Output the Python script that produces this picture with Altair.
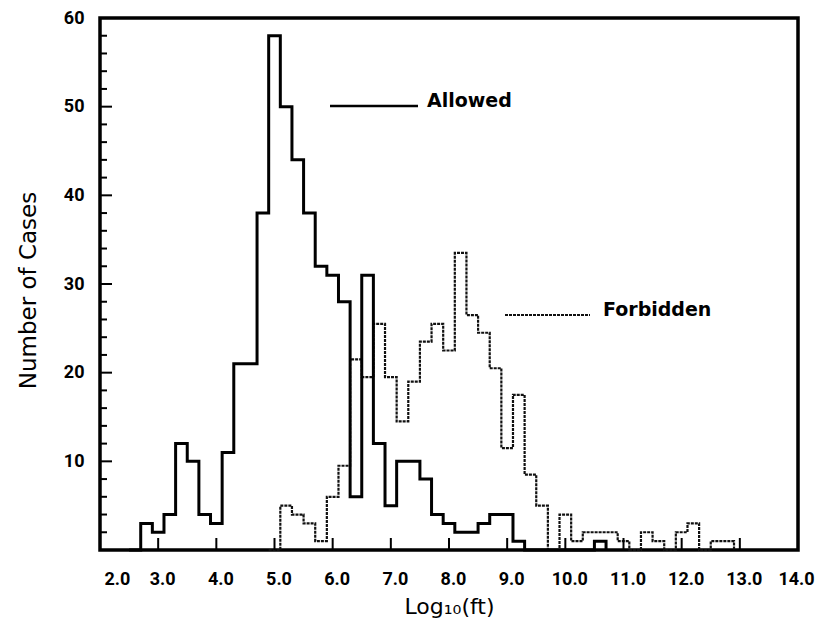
import altair as alt
import pandas as pd

# ---- data (histogram counts, bin width 0.2 in log10(ft)) ----
bin_width = 0.2
allowed_start = 2.5
allowed_counts = [0, 3, 2, 4, 12, 10, 4, 3, 11, 21,
                  21, 38, 58, 50, 44, 38, 32, 31, 28, 6,
                  31, 12, 5, 10, 10, 8, 4, 3, 2, 2,
                  3, 4, 4, 1, 0, 0, 0, 0, 0, 0,
                  1, 0]
forbidden_start = 4.9
forbidden_counts = [0, 5, 4, 3, 1, 6, 9.5, 21.5, 19.5, 25.5,
                    19.5, 14.5, 19, 23.5, 25.5, 22.5, 33.5, 26.5, 24.5, 20.5,
                    11.5, 17.5, 8.5, 5, 0, 4, 1, 2, 2, 2,
                    1, 0, 2, 1, 0, 2, 3, 0, 1, 1,
                    0]
x_tick_values = [2, 3, 4, 5, 6, 7, 8, 9, 10, 11, 12, 13, 14]
y_label_values = [10, 20, 30, 40, 50, 60]
y_major_ticks = [10, 20, 30, 40, 50]
y_minor_ticks = [2, 4, 6, 8, 12, 14, 16, 18, 22, 24, 26, 28, 32, 34, 36, 38,
                 42, 44, 46, 48, 52, 54, 56, 58]
x_inner_ticks = [3, 4, 5, 6, 7, 8, 9, 10, 11, 12, 13]


def step_frame(start, counts):
    edges = [round(start + bin_width * i, 2) for i in range(len(counts))]
    return pd.DataFrame({"edge": edges, "count": counts})


allowed_df = step_frame(allowed_start, allowed_counts)
forbidden_df = step_frame(forbidden_start, forbidden_counts)

W, H = 698, 532
FONT = "DejaVu Sans"
TICKFONT = "Roboto"

x_scale = alt.Scale(domain=[2, 14], nice=False, zero=False)
y_scale = alt.Scale(domain=[0, 60], nice=False, zero=True)

x_axis = alt.Axis(
    values=x_tick_values, format=".1f", ticks=False, domain=False, grid=False,
    labelFont=TICKFONT, labelFontSize=18, labelFontWeight="bold", labelColor="black",
    labelPadding=20, labelFlush=False,
    labelOffset=alt.expr("datum.value == 14 ? -2 : 4"),
    labelAlign=alt.expr("datum.value == 2 ? 'left' : 'center'"),
    title="Log₁₀(ft)", titleFont=FONT, titleFontSize=22, titleFontWeight="normal",
    titleColor="black", titleX=W / 2, titleY=56, titleBaseline="middle",
)
y_axis = alt.Axis(
    values=y_label_values, ticks=False, domain=False, grid=False,
    labelFont=TICKFONT, labelFontSize=18, labelFontWeight="bold", labelColor="black",
    labelPadding=16,
    title="Number of Cases", titleFont=FONT, titleFontSize=23, titleFontWeight="normal",
    titleColor="black", titleX=-72, titleY=H / 2 + 6, titleAngle=-90,
    titleAlign="center", titleBaseline="middle",
)


def X(field):
    return alt.X(field, scale=x_scale, axis=x_axis)


def Y(field):
    return alt.Y(field, scale=y_scale, axis=y_axis)


forbidden = alt.Chart(forbidden_df).mark_line(
    interpolate="step-after", color="#111", strokeWidth=2.2, strokeDash=[3, 1]
).encode(x=X("edge:Q"), y=Y("count:Q"))

allowed = alt.Chart(allowed_df).mark_line(
    interpolate="step-after", color="black", strokeWidth=3
).encode(x=X("edge:Q"), y=Y("count:Q"))

y_minor = alt.Chart(pd.DataFrame({"count": y_minor_ticks})).mark_rule(
    color="black", strokeWidth=2
).encode(y=Y("count:Q"), x=alt.value(0), x2=alt.value(7))

y_major = alt.Chart(pd.DataFrame({"count": y_major_ticks})).mark_rule(
    color="black", strokeWidth=2
).encode(y=Y("count:Q"), x=alt.value(0), x2=alt.value(12))

x_ticks = alt.Chart(pd.DataFrame({"edge": x_inner_ticks})).mark_rule(
    color="black", strokeWidth=2
).encode(x=X("edge:Q"), y=alt.value(H), y2=alt.value(H - 12))

legend_allowed_line = alt.Chart(pd.DataFrame({"label": ["Allowed"]})).mark_rule(
    color="black", strokeWidth=2.5
).encode(x=alt.value(230), x2=alt.value(318), y=alt.value(88))

legend_allowed_text = alt.Chart(pd.DataFrame({"label": ["Allowed"]})).mark_text(
    align="left", baseline="alphabetic", font=FONT, fontSize=19, fontWeight="bold", color="black"
).encode(x=alt.value(327), y=alt.value(89), text="label:N")

legend_forb_line = alt.Chart(pd.DataFrame({"label": ["Forbidden"]})).mark_rule(
    color="#111", strokeWidth=2.2, strokeDash=[3, 1]
).encode(x=alt.value(405), x2=alt.value(490), y=alt.value(297))

legend_forb_text = alt.Chart(pd.DataFrame({"label": ["Forbidden"]})).mark_text(
    align="left", baseline="alphabetic", font=FONT, fontSize=19, fontWeight="bold", color="black"
).encode(x=alt.value(503), y=alt.value(298), text="label:N")

chart = alt.layer(
    forbidden, allowed, y_minor, y_major, x_ticks,
    legend_allowed_line, legend_allowed_text, legend_forb_line, legend_forb_text,
).properties(
    width=W, height=H,
    autosize=alt.AutoSizeParams(type="none"),
    padding={"left": 92, "top": 10, "right": 18, "bottom": 72},
    background="white",
).configure_view(
    stroke="black", strokeWidth=3.5
)

chart.save("out.html", embed_options={"renderer": "svg", "actions": False})
